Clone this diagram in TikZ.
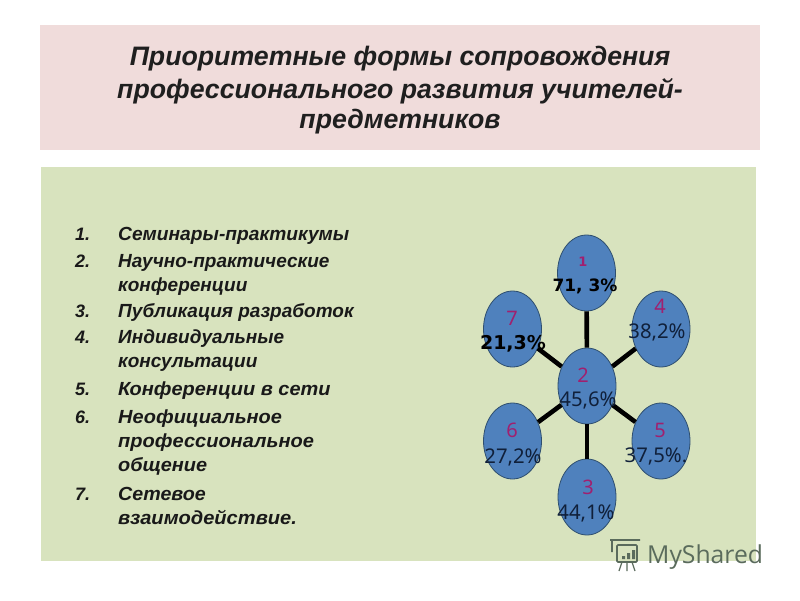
\documentclass[tikz,border=0pt]{standalone}
\usepackage{fontspec}
\usepackage{graphicx}
\setmainfont{Liberation Sans}
\newfontfamily\nt{Noto Sans}
\newfontfamily\djb{DejaVu Sans Bold}
\newfontfamily\ws{Open Sans}
\definecolor{topband}{HTML}{F0DCDB}
\definecolor{greenband}{HTML}{D8E3BE}
\definecolor{blob}{HTML}{4F81BD}
\definecolor{blobedge}{HTML}{2F4F6F}
\definecolor{numc}{HTML}{A0206F}
\definecolor{valc}{HTML}{10203A}
\definecolor{wm}{HTML}{5A6B5C}
\newcommand{\wider}[2]{\scalebox{#1}[1]{#2}}
\tikzset{
  x=1pt,y=-1pt,
  blobnode/.style={ellipse,draw=blobedge,line width=0.8pt,fill=blob,minimum width=58pt,minimum height=76pt,inner sep=0pt},
  link/.style={draw=black,line width=4.6pt},
  titleline/.style={anchor=base,font=\bfseries\itshape\fontsize{26.7}{30}\selectfont,text=black!88,inner sep=0pt},
  itemnum/.style={anchor=base west,font=\bfseries\itshape\fontsize{18}{24}\selectfont,text=black!90,inner sep=0pt},
  itemtext/.style={anchor=base west,font=\bfseries\itshape\fontsize{19}{24}\selectfont,text=black!90,inner sep=0pt},
  numlab/.style={anchor=base,font=\nt\fontsize{20}{24}\selectfont,text=numc,inner sep=0pt},
  numbold/.style={anchor=base,font=\djb\fontsize{13}{16}\selectfont,text=numc,inner sep=0pt},
  vallab/.style={anchor=base,font=\nt\fontsize{20.3}{24}\selectfont,text=valc,inner sep=0pt},
  valbold/.style={anchor=base,font=\djb\fontsize{#1}{24}\selectfont,text=black,inner sep=0pt},
}
\usetikzlibrary{shapes.geometric}
\begin{document}
\begin{tikzpicture}
\useasboundingbox (0,0) rectangle (800,600);
\fill[white] (0,0) rectangle (800,600);
\fill[topband] (40,25) rectangle (760,150);
\fill[greenband] (41,167) rectangle (756,561);
% title
\node[titleline] (t1) at (400,65.5) {Приоритетные формы сопровождения};
\node[titleline] (t2) at (400,98.5) {профессионального развития учителей-};
\node[titleline] (t3) at (400,128) {предметников};
% list
\foreach \n/\yy in {1/240,2/267,3/317,4/343,5/395,6/423,7/500}{
  \node[itemnum] (n\n) at (75,\yy) {\n.};
}
\node[itemtext] (i1) at (118,240) {\wider{1.01}{Семинары-практикумы}};
\node[itemtext] (i2a) at (118,267) {Научно-практические};
\node[itemtext] (i2b) at (118,291) {конференции};
\node[itemtext] (i3) at (118,317) {Публикация разработок};
\node[itemtext] (i4a) at (118,343) {Индивидуальные};
\node[itemtext] (i4b) at (118,367) {консультации};
\node[itemtext] (i5) at (118,395) {\wider{1.05}{Конференции в сети}};
\node[itemtext] (i6a) at (118,423) {\wider{1.05}{Неофициальное}};
\node[itemtext] (i6b) at (118,447) {\wider{1.054}{профессиональное}};
\node[itemtext] (i6c) at (118,471) {\wider{1.047}{общение}};
\node[itemtext] (i7a) at (118,500) {\wider{1.035}{Сетевое}};
\node[itemtext] (i7b) at (118,524) {\wider{1.057}{взаимодействие.}};
% ellipses
\node[blobnode] (b1) at (586.5,273) {};
\node[blobnode] (b2) at (587,386) {};
\node[blobnode] (b3) at (587,497) {};
\node[blobnode] (b4) at (661,329) {};
\node[blobnode] (b5) at (661,441) {};
\node[blobnode] (b6) at (512.5,441) {};
\node[blobnode] (b7) at (512.5,329) {};
\foreach \k in {1,3,4,5,6,7}{ \draw[link] (b2) -- (b\k); }
% labels
\node[numbold] (l1) at (583,266) {1};
\node[valbold=17] (v1) at (585,291) {71, 3\%};
\node[numlab] (l2) at (583,382) {2};
\node[vallab] (v2) at (588,406) {45,6\%};
\node[numlab] (l3) at (588,494) {3};
\node[vallab] (v3) at (586,519) {44,1\%};
\node[numlab] (l4) at (660,313) {4};
\node[vallab] (v4) at (657,338) {38,2\%};
\node[numlab] (l5) at (660,437) {5};
\node[vallab] (v5) at (656,462) {37,5\%.};
\node[numlab] (l6) at (512,437) {6};
\node[vallab] (v6) at (513,463) {27,2\%};
\node[numlab] (l7) at (512,325) {7};
\node[valbold=19] (v7) at (513,349) {21,3\%};
% watermark
\node[anchor=base west,font=\ws\fontsize{24.7}{30}\selectfont,text=wm,inner sep=0pt] (wmt) at (647,563) {MyShared};
\draw[wm,line width=1.6pt,rounded corners=1pt] (610,540) -- (640,540) (612,540) -- (612,552) (617,545) rectangle (637,562);
\fill[wm] (622,556) rectangle +(3,3) (627,553) rectangle +(3,6) (632,550) rectangle +(3,9);
\draw[wm,line width=1.2pt] (622,562) -- (619,571) (627,562) -- (627,571) (632,562) -- (635,571);
\end{tikzpicture}
\end{document}
